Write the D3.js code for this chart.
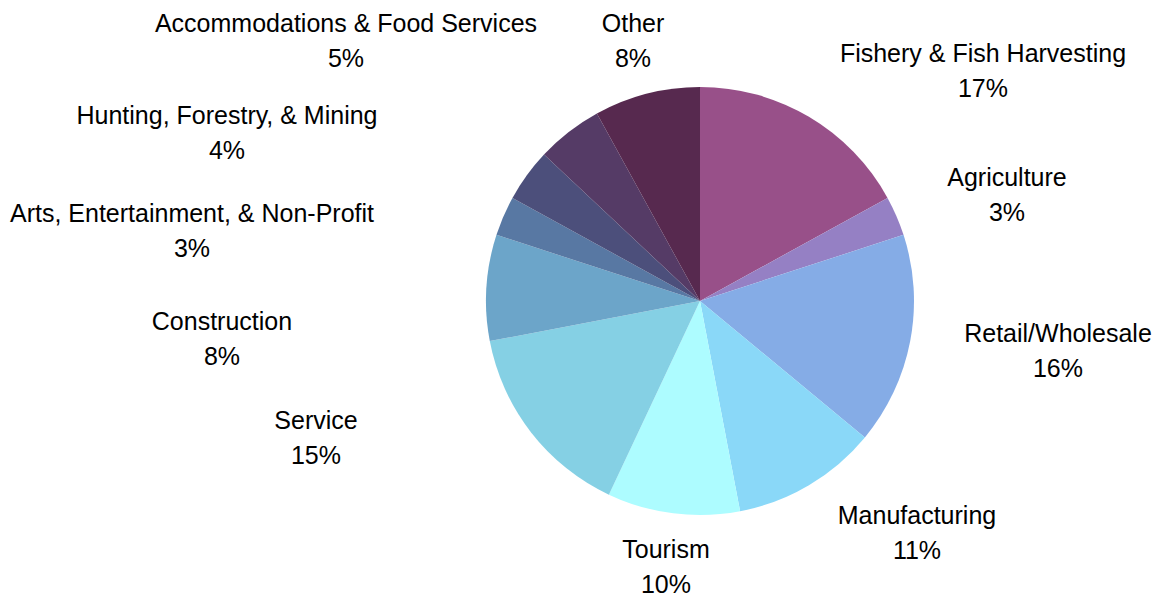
<!DOCTYPE html>
<html><head><meta charset="utf-8">
<script src="https://cdn.jsdelivr.net/npm/d3@7"></script>
<style>body{margin:0;background:#fff}svg{display:block}</style>
</head><body>
<svg id="c" width="1157" height="595"></svg>
<script>
const categories = ["Fishery & Fish Harvesting","Agriculture","Retail/Wholesale","Manufacturing","Tourism","Service","Construction","Arts, Entertainment, & Non-Profit","Hunting, Forestry, & Mining","Accommodations & Food Services","Other"];
const values = [17,3,16,11,10,15,8,3,4,5,8];
const colors = ["#985089","#9580c4","#85ace6","#8ad8f8","#adfcff","#85d0e4","#6ca5c9","#5878a3","#4c4f7b","#553b66","#57294f"];
// label anchor layout (x, y of name line centre)
const labelLayout = [[983,53],[1007,177],[1058,333],[917,515],[666,549],[316,420],[222,321],[192,213],[227,115],[346,23],[633,23]];

const svg = d3.select("#c");
const cx = 700, cy = 301, r = 214;
const data = categories.map((c,i)=>({name:c,value:values[i],color:colors[i],pos:labelLayout[i]}));
const pie = d3.pie().value(d=>d.value).sort(null);
const arc = d3.arc().innerRadius(0).outerRadius(r);
const g = svg.append("g").attr("transform",`translate(${cx},${cy})`);
g.selectAll("path").data(pie(data)).join("path").attr("d",arc).attr("fill",d=>d.data.color);
const total = d3.sum(values);
const lab = svg.append("g").attr("font-family","'Liberation Sans', Arial, sans-serif").attr("font-size",25).attr("fill","#000").attr("text-anchor","middle");
data.forEach(d=>{
  lab.append("text").attr("x",d.pos[0]).attr("y",d.pos[1]).attr("dominant-baseline","central").text(d.name);
  lab.append("text").attr("x",d.pos[0]).attr("y",d.pos[1]+35).attr("dominant-baseline","central").text(Math.round(d.value/total*100)+"%");
});
</script>
</body></html>
